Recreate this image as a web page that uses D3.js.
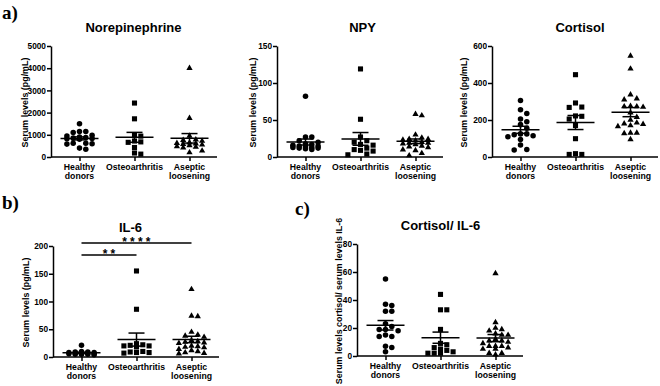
<!DOCTYPE html>
<html>
<head>
<meta charset="utf-8">
<script src="https://cdn.jsdelivr.net/npm/d3@7/dist/d3.min.js"></script>
<style>
  body { margin: 0; background: #fff; }
  svg { display: block; font-family: "Liberation Sans", Arial, sans-serif; }
</style>
</head>
<body>
<div id="chart-area"></div>
<script>
// SVG Size
var width = 660,
	height = 386;

// groups (same order in every panel)
const categories = ["Healthy donors", "Osteoarthritis", "Aseptic loosening"];
const categoryLines = [["Healthy", "donors"], ["Osteoarthritis"], ["Aseptic", "loosening"]];
const symbols = [d3.symbolCircle, d3.symbolSquare, d3.symbolTriangle];

// values, one array per group
const norepinephrine = [
	[1500, 1150, 1100, 1150, 980, 950, 900, 880, 850, 830, 820, 800, 620, 600, 580, 620, 350, 400],
	[2430, 1720, 970, 940, 720, 680, 660, 430, 180, 130],
	[4000, 1750, 950, 780, 760, 720, 650, 620, 600, 580, 550, 520, 480, 450, 420, 280, 200]
];
const npy = [
	[82, 27, 27, 22, 20, 18, 17, 16, 15, 15, 14, 13, 13, 12, 12, 11, 10],
	[119, 51, 27, 22, 20, 17, 16, 12, 10, 9, 8, 4, 3],
	[58, 56, 30, 26, 24, 24, 23, 22, 20, 19, 19, 18, 17, 15, 14, 13, 10, 9, 5, 2]
];
const cortisol = [
	[305, 255, 235, 205, 190, 175, 155, 125, 120, 115, 110, 125, 95, 65, 40, 38],
	[445, 292, 268, 270, 222, 220, 205, 170, 99, 18, 14, 14],
	[546, 477, 337, 315, 310, 275, 273, 273, 270, 240, 215, 200, 185, 180, 178, 170, 165, 130, 130, 128, 95]
];
const il6 = [
	[21, 10, 9, 9, 8, 8, 8, 7, 7, 7, 6, 6, 6, 5, 5, 5, 4],
	[155, 86, 24, 22, 21, 20, 20, 18, 10, 9, 8, 8, 7],
	[122, 74, 73, 45, 40, 38, 36, 30, 28, 27, 26, 25, 20, 19, 18, 17, 14, 12, 10, 8, 7, 6]
];
const cortisolIl6 = [
	[55, 37, 36, 32, 32, 23, 21, 19, 19, 18, 15, 14, 14, 7, 6, 3],
	[44, 33, 33, 19, 9, 8, 6, 5, 4, 3, 2, 2, 2],
	[59, 24, 20, 19, 18, 16, 15, 15, 12, 11, 11, 10, 9, 7, 7, 7, 6, 5, 5, 2, 2, 1]
];

// y tick labels
const norepiTicks = [0, 1000, 2000, 3000, 4000, 5000];
const npyTicks = [0, 50, 100, 150];
const cortisolTicks = [0, 200, 400, 600];
const il6Ticks = [0, 50, 100, 150, 200];
const ratioTicks = [0, 20, 40, 60, 80];

// significance bars in IL-6 panel
const il6Sig = [
	{from: 0, to: 2, level: 205.5, label: "****"},
	{from: 0, to: 1, level: 184, label: "**"}
];

const panelLetters = [
	{text: "a)", x: 2, y: 19},
	{text: "b)", x: 2, y: 209},
	{text: "c)", x: 295, y: 215}
];

let panels = [
	{title: "Norepinephrine", values: norepinephrine, ticks: norepiTicks, x0: 51, top: 46, bottom: 157, titleDx: -1, labelDx: -23.5, ylabel: "Serum levels (pg/mL)"},
	{title: "NPY", values: npy, ticks: npyTicks, x0: 277, top: 46, bottom: 157, titleDx: 2, labelDx: -21.5, ylabel: "Serum levels (pg/mL)"},
	{title: "Cortisol", values: cortisol, ticks: cortisolTicks, x0: 492, top: 46, bottom: 157, titleDx: 4.5, labelDx: -25, ylabel: "Serum levels (pg/mL)"},
	{title: "IL-6", values: il6, ticks: il6Ticks, x0: 53, top: 246, bottom: 357, titleDx: -6, labelDx: -24.5, ylabel: "Serum levels (pg/mL)", sig: il6Sig},
	{title: "Cortisol/ IL-6", values: cortisolIl6, ticks: ratioTicks, x0: 357, top: 244, bottom: 356, titleDx: 0, labelDx: -15, ylabel: "Serum levels cortisol/ serum levels IL-6"}
];

let svg = d3.select("#chart-area")
	.append("svg")
	.attr("width", width)
	.attr("height", height);

svg.selectAll(".letter")
	.data(panelLetters)
	.enter()
	.append("text")
	.attr("x", d => d.x)
	.attr("y", d => d.y)
	.text(d => d.text)
	.style("font-family", "'Liberation Serif', 'Times New Roman', serif")
	.style("font-weight", "bold")
	.style("font-size", "19px");

// place points of a group side by side; when the row is full they overlap
function swarm(vals, y, cx, diam, maxOff) {
	let step = diam + 0.9;
	let pts = vals.map(v => ({v: v, py: y(v)})).sort((a, b) => a.py - b.py);
	let placed = [];
	pts.forEach(p => {
		let best = null, bestDist = -1;
		for (let k = 0; ; k++) {
			let off = k === 0 ? 0 : (k % 2 ? 1 : -1) * Math.ceil(k / 2) * step;
			if (Math.abs(off) > maxOff) break;
			let d = d3.min(placed, q => Math.hypot(q.px - (cx + off), q.py - p.py));
			if (d === undefined) d = Infinity;
			if (d >= diam) { best = off; break; }
			if (d > bestDist) { bestDist = d; best = off; }
		}
		p.px = cx + best;
		placed.push(p);
	});
	return placed;
}

panels.forEach(function(p) {
	let g = svg.append("g");

	let x = d3.scalePoint()
		.domain(categories)
		.range([p.x0 + 1, p.x0 + 166])
		.padding(0.5);

	let y = d3.scaleLinear()
		.domain([0, d3.max(p.ticks)])
		.range([p.bottom, p.top]);

	// y axis
	let yAxis = d3.axisLeft(y).tickValues(p.ticks).tickFormat(d3.format("d"))
		.tickSize(4).tickPadding(1).tickSizeOuter(0);
	let ya = g.append("g")
		.attr("transform", "translate(" + p.x0 + ",0)")
		.call(yAxis)
		.attr("font-family", null)
		.attr("font-size", null);

	// x axis
	let xAxis = d3.axisBottom(x).tickSize(4).tickSizeOuter(0).tickFormat("");
	let xa = g.append("g")
		.attr("transform", "translate(0," + p.bottom + ")")
		.call(xAxis);
	xa.select(".domain").attr("d", "M" + p.x0 + ",0H" + (p.x0 + 166));

	g.selectAll(".domain, .tick line").attr("stroke", "#000").attr("stroke-width", 1.5);
	ya.selectAll("text")
		.style("font-size", "8.3px")
		.style("font-weight", "bold")
		.attr("fill", "#000");

	// category labels
	categories.forEach(function(c, i) {
		let t = g.append("text")
			.attr("x", x(c))
			.attr("y", p.bottom + 12.5)
			.attr("text-anchor", "middle")
			.style("font-size", "8.7px")
			.style("font-weight", "bold");
		categoryLines[i].forEach(function(line, j) {
			t.append("tspan")
				.attr("x", x(c))
				.attr("dy", j === 0 ? 0 : 9.5)
				.text(line);
		});
	});

	// title
	g.append("text")
		.attr("x", x(categories[1]) + p.titleDx)
		.attr("y", p.top - 14.5)
		.attr("text-anchor", "middle")
		.style("font-size", "13px")
		.style("font-weight", "bold")
		.text(p.title);

	// y label
	let cy = (p.top + p.bottom) / 2 + 1;
	g.append("text")
		.attr("transform", "translate(" + (p.x0 + p.labelDx) + "," + cy + ") rotate(-90)")
		.attr("text-anchor", "middle")
		.style("font-size", "8.9px")
		.style("font-weight", "bold")
		.text(p.ylabel);

	// points, mean and SEM
	p.values.forEach(function(vals, i) {
		let cx = x(categories[i]);
		let pts = swarm(vals, y, cx, 5.4, 18);
		let sym = d3.symbol().type(symbols[i]).size(i === 0 ? 24 : (i === 1 ? 26 : 17));

		g.selectAll(".pt" + i)
			.data(pts)
			.enter()
			.append("path")
			.attr("d", sym)
			.attr("transform", d => "translate(" + d.px + "," + d.py + ")")
			.attr("fill", "#000");

		let m = d3.mean(vals);
		let sem = d3.deviation(vals) / Math.sqrt(vals.length);
		let lines = [
			[cx - 19, y(m), cx + 19, y(m)],
			[cx, y(m - sem), cx, y(m + sem)],
			[cx - 8, y(m - sem), cx + 8, y(m - sem)],
			[cx - 8, y(m + sem), cx + 8, y(m + sem)]
		];
		g.selectAll(".err" + i)
			.data(lines)
			.enter()
			.append("line")
			.attr("x1", d => d[0]).attr("y1", d => d[1])
			.attr("x2", d => d[2]).attr("y2", d => d[3])
			.attr("stroke", "#000")
			.attr("stroke-width", 1.5);
	});

	// significance bars
	if (p.sig) {
		p.sig.forEach(function(s) {
			g.append("line")
				.attr("x1", x(categories[s.from])).attr("x2", x(categories[s.to]))
				.attr("y1", y(s.level)).attr("y2", y(s.level))
				.attr("stroke", "#000")
				.attr("stroke-width", 1.5);
			g.append("text")
				.attr("x", (x(categories[s.from]) + x(categories[s.to])) / 2 + 1.5)
				.attr("y", y(s.level) + 3.5)
				.attr("text-anchor", "middle")
				.style("font-size", "12px")
				.style("font-weight", "bold")
				.style("letter-spacing", "3.2px")
				.text(s.label);
		});
	}
});
</script>
</body>
</html>
